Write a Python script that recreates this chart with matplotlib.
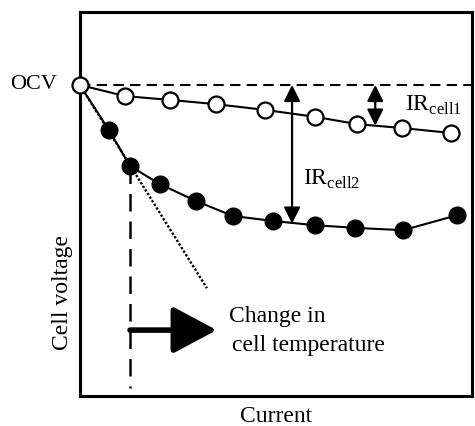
import matplotlib.pyplot as plt

plt.rcParams['font.family'] = ['Liberation Serif', 'DejaVu Serif']
plt.rcParams['mathtext.fontset'] = 'custom'
plt.rcParams['mathtext.rm'] = 'Liberation Serif'

# schematic data in arbitrary units (0-100 on both axes)
ocv = 81.0
cell1_current = [0, 11.5, 23.0, 34.7, 47.2, 60.0, 70.7, 82.0, 94.6]
cell1_voltage = [81.0, 78.1, 77.1, 76.0, 74.5, 72.7, 70.8, 69.8, 68.5]
cell2_current = [7.4, 12.8, 20.4, 29.6, 39.0, 49.2, 59.9, 70.2, 82.4, 96.2]
cell2_voltage = [69.3, 59.9, 55.2, 50.8, 46.9, 45.6, 44.5, 43.8, 43.2, 47.1]
tangent_current = [0, 32.4]
tangent_voltage = [81.0, 28.1]
change_current = 12.8
arrow_end = 34.9
arrow_level = 17.2

fig = plt.figure(figsize=(4.75, 4.26), dpi=100)
ax = fig.add_axes([0.168, 0.070, 0.826, 0.902])
ax.set_xlim(0, 100)
ax.set_ylim(0, 100)
for s in ax.spines.values():
    s.set_linewidth(2.2)
ax.set_xticks([])
ax.set_yticks([])

# OCV reference line
ax.plot([0, 100], [ocv, ocv], color='black', lw=1.5, ls=(0, (5, 3)), zorder=1)

# initial slope (dotted)
ax.plot(tangent_current, tangent_voltage, color='black', lw=1.7, ls=(0, (1, 0.8)), zorder=1)

# cell 2 (filled)
ax.plot([0] + cell2_current, [ocv] + cell2_voltage, color='black', lw=1.5, zorder=2)
ax.plot(cell2_current, cell2_voltage, 'o', color='black', ms=12, zorder=3)

# cell 1 (open)
ax.plot(cell1_current, cell1_voltage, color='black', lw=1.5, marker='o', ms=11.5,
        mfc='white', mec='black', mew=1.6, zorder=4, clip_on=False)

# vertical dashed line at temperature change
ax.plot([change_current, change_current], [cell2_voltage[1], 2], color='black',
        lw=1.8, ls=(0, (7, 4)), zorder=1)

# big arrow
ax.annotate('', xy=(arrow_end, arrow_level), xytext=(change_current, arrow_level),
            arrowprops=dict(arrowstyle='-|>,head_length=1.5,head_width=0.8',
                            lw=4, color='black', shrinkA=0, shrinkB=0,
                            mutation_scale=18))
ax.text(38, 20.8, 'Change in', fontsize=17, va='center', ha='left')
ax.text(38.8, 13.3, 'cell temperature', fontsize=17, va='center', ha='left')

# IR arrows
ax.annotate('', xy=(75.3, ocv), xytext=(75.3, cell1_voltage[6] - 0.4),
            arrowprops=dict(arrowstyle='<|-|>,head_length=0.7,head_width=0.35',
                            lw=1.6, color='black', shrinkA=0, shrinkB=0,
                            mutation_scale=14))
ax.annotate('', xy=(54.1, ocv), xytext=(54.1, 44.9),
            arrowprops=dict(arrowstyle='<|-|>,head_length=0.7,head_width=0.35',
                            lw=1.6, color='black', shrinkA=0, shrinkB=0,
                            mutation_scale=14))
ax.text(82.9, 75.8, r'IR$_{\rm cell1}$', fontsize=17, va='center', ha='left')
ax.text(57.0, 56.5, r'IR$_{\rm cell2}$', fontsize=17, va='center', ha='left')

# labels
ax.text(-5.8, ocv, 'OCV', fontsize=16, va='center', ha='right')
ax.set_ylabel('Cell voltage', fontsize=17)
ax.yaxis.set_label_coords(-0.018, 0.27)
ax.set_xlabel('Current', fontsize=17, labelpad=7)

fig.savefig('out.png', dpi=100)
